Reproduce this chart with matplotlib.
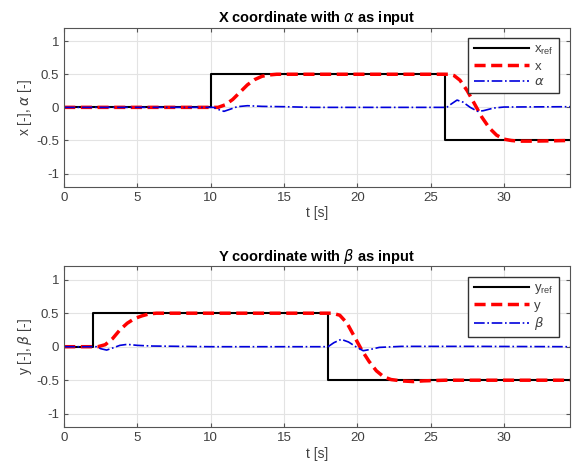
import matplotlib
matplotlib.use('Agg')

import matplotlib.pyplot as plt

plt.rcParams['font.family'] = ['Liberation Sans', 'DejaVu Sans']
plt.rcParams['mathtext.fontset'] = 'dejavusans'

# 颜色配置
COLOR_REF = '#000000'
COLOR_POS = '#ff0000'
COLOR_ANG = '#0000dd'
COLOR_GRID = '#e3e3e3'
COLOR_TEXT = '#404040'

# 时间轴范围
T_MAX = 34.5

# ---- X 坐标 ----
x_ref_t = [0, 10, 10, 26, 26, T_MAX]
x_ref_v = [0, 0, 0.5, 0.5, -0.5, -0.5]

x_t = [0, 10.0, 10.5, 11.0, 11.5, 12.0, 12.5, 13.0, 13.5, 14.0, 14.5,
       26.3, 26.6, 27.0, 27.5, 28.0, 28.5, 29.0, 29.5, 30.0, 30.5, 31.0, 32.0, T_MAX]
x_v = [0, 0.0, 0.0, 0.04, 0.12, 0.23, 0.34, 0.42, 0.47, 0.49, 0.5,
       0.5, 0.48, 0.41, 0.25, 0.05, -0.15, -0.31, -0.42, -0.48, -0.5, -0.51, -0.51, -0.5]

alpha_t = [0, 10.2, 10.5, 10.9, 11.3, 11.8, 12.5, 13.5, 15.0, 16.0, 17.0,
           26.1, 26.4, 26.8, 27.2, 27.7, 28.2, 28.6, 29.3, 30.0, T_MAX]
alpha_v = [0, 0, -0.03, -0.06, -0.03, 0.01, 0.025, 0.015, 0.01, 0.005, 0,
           0, 0.05, 0.11, 0.08, 0.0, -0.06, -0.05, -0.01, 0.005, 0.01]

# ---- Y 坐标 ----
y_ref_t = [0, 2, 2, 18, 18, T_MAX]
y_ref_v = [0, 0, 0.5, 0.5, -0.5, -0.5]

y_t = [0, 2.3, 2.8, 3.3, 3.8, 4.3, 4.8, 5.3, 5.8, 6.3,
       18.3, 18.8, 19.3, 19.8, 20.3, 20.8, 21.3, 21.8, 22.3, 23.0, 23.8, 24.5, 26.0, T_MAX]
y_v = [0, 0, 0.03, 0.12, 0.25, 0.35, 0.42, 0.46, 0.49, 0.5,
       0.5, 0.47, 0.35, 0.15, -0.05, -0.22, -0.36, -0.45, -0.49, -0.51, -0.52, -0.51, -0.5, -0.5]

beta_t = [0, 2.2, 2.5, 2.9, 3.3, 3.8, 4.3, 5.0, 6.0, 8.0, 10.0,
          18.0, 18.4, 18.9, 19.4, 19.9, 20.4, 20.9, 21.5, 23.0, 28.0, T_MAX]
beta_v = [0, 0, -0.03, -0.05, -0.02, 0.02, 0.035, 0.02, 0.01, 0.005, 0,
          0, 0.06, 0.11, 0.07, 0.0, -0.06, -0.04, -0.01, 0.005, 0.005, 0]

panels = [
    dict(ref=(x_ref_t, x_ref_v), pos=(x_t, x_v), ang=(alpha_t, alpha_v),
         labels=[r'x$_{\mathregular{ref}}$', 'x', r'$\alpha$'],
         title=r'X coordinate with $\alpha$ as input',
         ylabel=r'x [-], $\alpha$ [-]',
         rect=[0.111, 0.605, 0.875, 0.336]),
    dict(ref=(y_ref_t, y_ref_v), pos=(y_t, y_v), ang=(beta_t, beta_v),
         labels=[r'y$_{\mathregular{ref}}$', 'y', r'$\beta$'],
         title=r'Y coordinate with $\beta$ as input',
         ylabel=r'y [-], $\beta$ [-]',
         rect=[0.111, 0.097, 0.875, 0.340]),
]

fig = plt.figure(figsize=(5.78, 4.73), dpi=100)

for p in panels:
    ax = fig.add_axes(p['rect'])
    ax.plot(*p['ref'], color=COLOR_REF, linewidth=1.5, label=p['labels'][0])
    ax.plot(*p['pos'], color=COLOR_POS, linewidth=2.5, linestyle='--',
            dashes=(3.2, 1.6), label=p['labels'][1])
    ax.plot(*p['ang'], color=COLOR_ANG, linewidth=1.2, linestyle='-.',
            label=p['labels'][2])

    ax.set_xlim(0, T_MAX)
    ax.set_ylim(-1.2, 1.2)
    ax.set_xticks([0, 5, 10, 15, 20, 25, 30])
    ax.set_yticks([-1, -0.5, 0, 0.5, 1])
    ax.set_yticklabels(['-1', '-0.5', '0', '0.5', '1'])

    ax.grid(True, color=COLOR_GRID, linewidth=0.8)
    ax.set_axisbelow(True)
    for s in ax.spines.values():
        s.set_color('#555555')
        s.set_linewidth(0.8)
    ax.tick_params(direction='in', length=3, labelsize=9.5,
                   colors='#555555', labelcolor=COLOR_TEXT, top=True, right=True)

    ax.set_title(p['title'], fontsize=10.5, fontweight='bold', pad=4)
    ax.set_xlabel('t [s]', fontsize=10, color=COLOR_TEXT, labelpad=2)
    ax.set_ylabel(p['ylabel'], fontsize=10, color=COLOR_TEXT, labelpad=2)

    leg = ax.legend(loc='upper right', fontsize=9.5, fancybox=False,
                    framealpha=1, edgecolor='#333333', handlelength=4.2,
                    borderpad=0.4, labelspacing=0.25, handletextpad=0.4,
                    borderaxespad=0.8)
    leg.get_frame().set_linewidth(1.0)
    for t in leg.get_texts():
        t.set_color(COLOR_TEXT)

fig.savefig('out.png', dpi=100, facecolor='white')
plt.close(fig)
